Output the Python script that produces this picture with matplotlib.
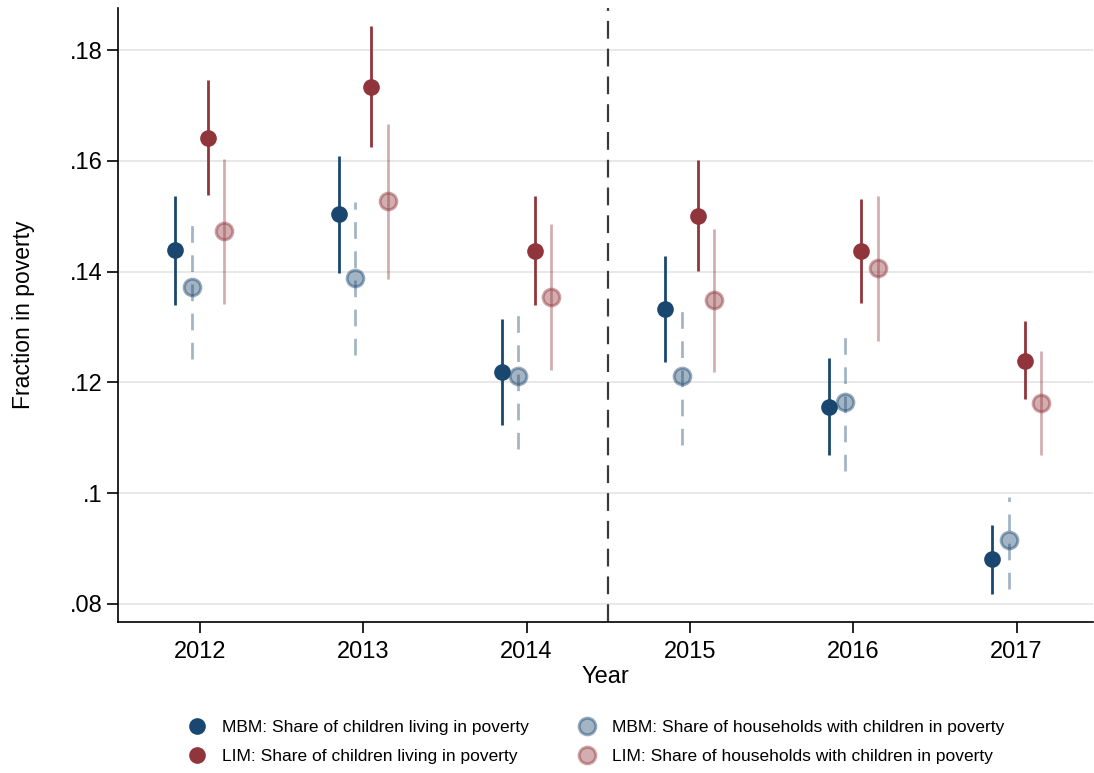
import matplotlib.pyplot as plt
from matplotlib.colors import to_rgba
from matplotlib.lines import Line2D

plt.rcParams['font.family'] = ['Liberation Sans', 'DejaVu Sans']

years = [2012, 2013, 2014, 2015, 2016, 2017]

# MBM: share of children living in poverty
mbm_child = [0.1439, 0.1504, 0.1219, 0.1333, 0.1156, 0.0881]
mbm_child_lo = [0.1339, 0.1398, 0.1122, 0.1236, 0.1068, 0.0818]
mbm_child_hi = [0.1537, 0.1609, 0.1314, 0.1428, 0.1244, 0.0943]

# MBM: share of households with children in poverty
mbm_hh = [0.1372, 0.1388, 0.1212, 0.1212, 0.1164, 0.0916]
mbm_hh_lo = [0.1242, 0.1250, 0.1080, 0.1087, 0.1039, 0.0827]
mbm_hh_hi = [0.1498, 0.1525, 0.1337, 0.1336, 0.1287, 0.0992]

# LIM: share of children living in poverty
lim_child = [0.1642, 0.1734, 0.1437, 0.1501, 0.1437, 0.1239]
lim_child_lo = [0.1539, 0.1624, 0.1339, 0.1401, 0.1343, 0.1169]
lim_child_hi = [0.1745, 0.1843, 0.1536, 0.1601, 0.1531, 0.1310]

# LIM: share of households with children in poverty
lim_hh = [0.1474, 0.1527, 0.1354, 0.1348, 0.1406, 0.1162]
lim_hh_lo = [0.1342, 0.1387, 0.1222, 0.1219, 0.1275, 0.1068]
lim_hh_hi = [0.1604, 0.1666, 0.1486, 0.1477, 0.1536, 0.1256]

labels = ["MBM: Share of children living in poverty",
          "MBM: Share of households with children in poverty",
          "LIM: Share of children living in poverty",
          "LIM: Share of households with children in poverty"]

navy = '#1a476f'
maroon = '#90353b'

fig = plt.figure(figsize=(10.94, 7.73), dpi=100)
ax = fig.add_axes([0.108, 0.1953, 0.8915, 0.7944])

series = [
    (mbm_child, mbm_child_lo, mbm_child_hi, -0.15, navy, False, 'solid'),
    (mbm_hh, mbm_hh_lo, mbm_hh_hi, -0.05, navy, True, (0, (6, 4.5))),
    (lim_child, lim_child_lo, lim_child_hi, 0.05, maroon, False, 'solid'),
    (lim_hh, lim_hh_lo, lim_hh_hi, 0.15, maroon, True, 'solid'),
]

for vals, lo, hi, off, col, light, ls in series:
    xs = [y + off for y in years]
    if light:
        lc = to_rgba(col, 0.4)
        fc = to_rgba(col, 0.4)
        ec = to_rgba(col, 0.45)
    else:
        lc = fc = ec = col
    ax.vlines(xs, lo, hi, colors=[lc], linewidth=2.0, linestyles=[ls], zorder=3)
    ax.plot(xs, vals, 'o', ms=12, mfc=fc, mec=ec, mew=2.2 if light else 0, ls='none', zorder=4)

ax.axvline(2014.5, color='#3a3a3a', lw=1.6, ls=(0, (8, 4.5)), zorder=2)

ax.set_xlim(2011.5, 2017.47)
ax.set_ylim(0.0767, 0.1876)
ax.set_xticks(years)
ax.set_xticklabels([str(y) for y in years])
yt = [0.08, 0.10, 0.12, 0.14, 0.16, 0.18]
ax.set_yticks(yt)
ax.set_yticklabels(['.08', '.1', '.12', '.14', '.16', '.18'])
ax.grid(axis='y', color='#e8e8e8', lw=1.4, zorder=0)
ax.set_axisbelow(True)
for s in ['top', 'right']:
    ax.spines[s].set_visible(False)
for s in ['left', 'bottom']:
    ax.spines[s].set_linewidth(1.2)
ax.tick_params(axis='both', labelsize=17, length=8, width=1.2, direction='out', pad=6)
ax.tick_params(axis='y', pad=3)
ax.set_xlabel('Year', fontsize=17, labelpad=2)
ax.set_ylabel('Fraction in poverty', fontsize=16.5, labelpad=25)

handles = []
for vals, lo, hi, off, col, light, ls in series:
    if light:
        handles.append(Line2D([], [], marker='o', ls='none', ms=12,
                              mfc=to_rgba(col, 0.4), mec=to_rgba(col, 0.45), mew=2.2))
    else:
        handles.append(Line2D([], [], marker='o', ls='none', ms=12, mfc=col, mec=col, mew=0))
order = [0, 2, 1, 3]
fig.legend([handles[i] for i in order], [labels[i] for i in order],
           loc='center', bbox_to_anchor=(0.541, 0.040), ncol=2, frameon=False,
           fontsize=12.5, handletextpad=0.45, columnspacing=2.35, labelspacing=0.8)

fig.savefig('out.png', dpi=100)
